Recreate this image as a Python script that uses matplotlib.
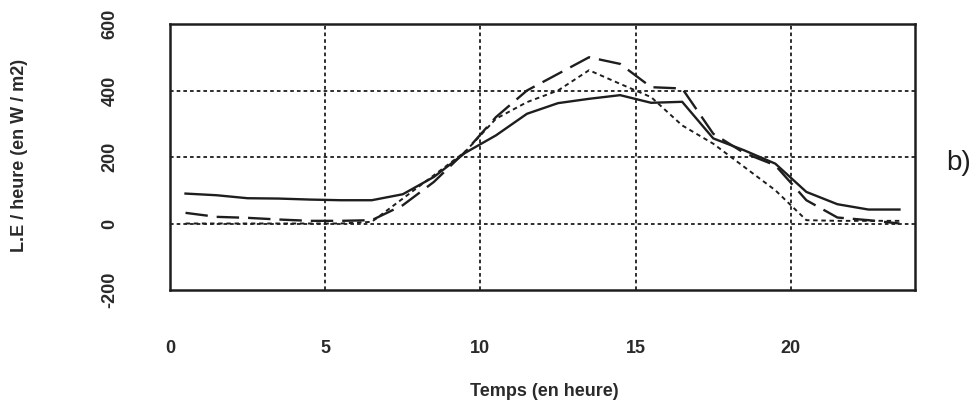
import matplotlib
matplotlib.use("Agg")
import matplotlib.pyplot as plt

plt.rcParams['font.family'] = ['Liberation Sans', 'DejaVu Sans']

hours = [0.5, 1.5, 2.5, 3.5, 4.5, 5.5, 6.5, 7.5, 8.5, 9.5, 10.5, 11.5,
         12.5, 13.5, 14.5, 15.5, 16.5, 17.5, 18.5, 19.5, 20.5, 21.5, 22.5, 23.5]

serie_solide = [90, 85, 76, 75, 72, 70, 70, 88, 140, 212, 265, 330,
                362, 375, 386, 363, 366, 256, 220, 180, 95, 58, 42, 42]

serie_tirets = [32, 20, 17, 12, 8, 8, 10, 55, 125, 215, 320, 400,
                450, 500, 480, 410, 406, 270, 212, 175, 70, 18, 10, 0]

serie_points = [0, 0, 0, 0, 0, 0, 5, 75, 145, 215, 315, 365,
                400, 461, 420, 380, 295, 240, 170, 100, 10, 8, 8, 8]

xticks = [0, 5, 10, 15, 20]
yticks = [-200, 0, 200, 400, 600]

ink = '#1e1e1e'
txt = '#2a2a2a'

fig = plt.figure(figsize=(9.77, 4.07), dpi=100)
ax = fig.add_axes([170/977, 1-290/407, (915-170)/977, (290-24)/407])

ax.set_xlim(0, 24)
ax.set_ylim(-200, 600)

for x in [5, 10, 15, 20]:
    ax.axvline(x, color=ink, lw=1.3, linestyle=(0, (2, 1.7)), zorder=1)
for y in [0, 200, 400]:
    ax.axhline(y, color=ink, lw=1.3, linestyle=(0, (2, 1.7)), zorder=1)

ax.plot(hours, serie_solide, color=ink, lw=1.7, solid_joinstyle='round', zorder=3)
ax.plot(hours, serie_tirets, color=ink, lw=1.7, linestyle=(0, (9.5, 3.8)), zorder=3)
ax.plot(hours, serie_points, color=ink, lw=1.4, linestyle=(0, (2.3, 1.9)), zorder=3)

for s in ax.spines.values():
    s.set_linewidth(1.8)
    s.set_color(ink)

ax.set_xticks(xticks)
ax.set_xticklabels([str(v) for v in xticks], fontsize=13, color=txt, fontweight='bold')
ax.set_yticks(yticks)
ax.set_yticklabels([str(v) for v in yticks], fontsize=13, color=txt, fontweight='bold',
                   rotation=90, va='center')
ax.tick_params(axis='x', length=0, pad=36)
ax.tick_params(axis='y', length=0, pad=37)

fig.text(544/977, 1-391/407, 'Temps (en heure)', ha='center', va='center',
         fontsize=13, color=txt, fontweight='bold')
fig.text(20/977, 1-155/407, 'L.E / heure (en W / m2)', ha='center', va='center',
         rotation=90, fontsize=13, color=txt, fontweight='bold')
fig.text(946/977, 1-163/407, 'b)', ha='left', va='center', fontsize=20, color=ink)

fig.savefig('out.png', dpi=100)
